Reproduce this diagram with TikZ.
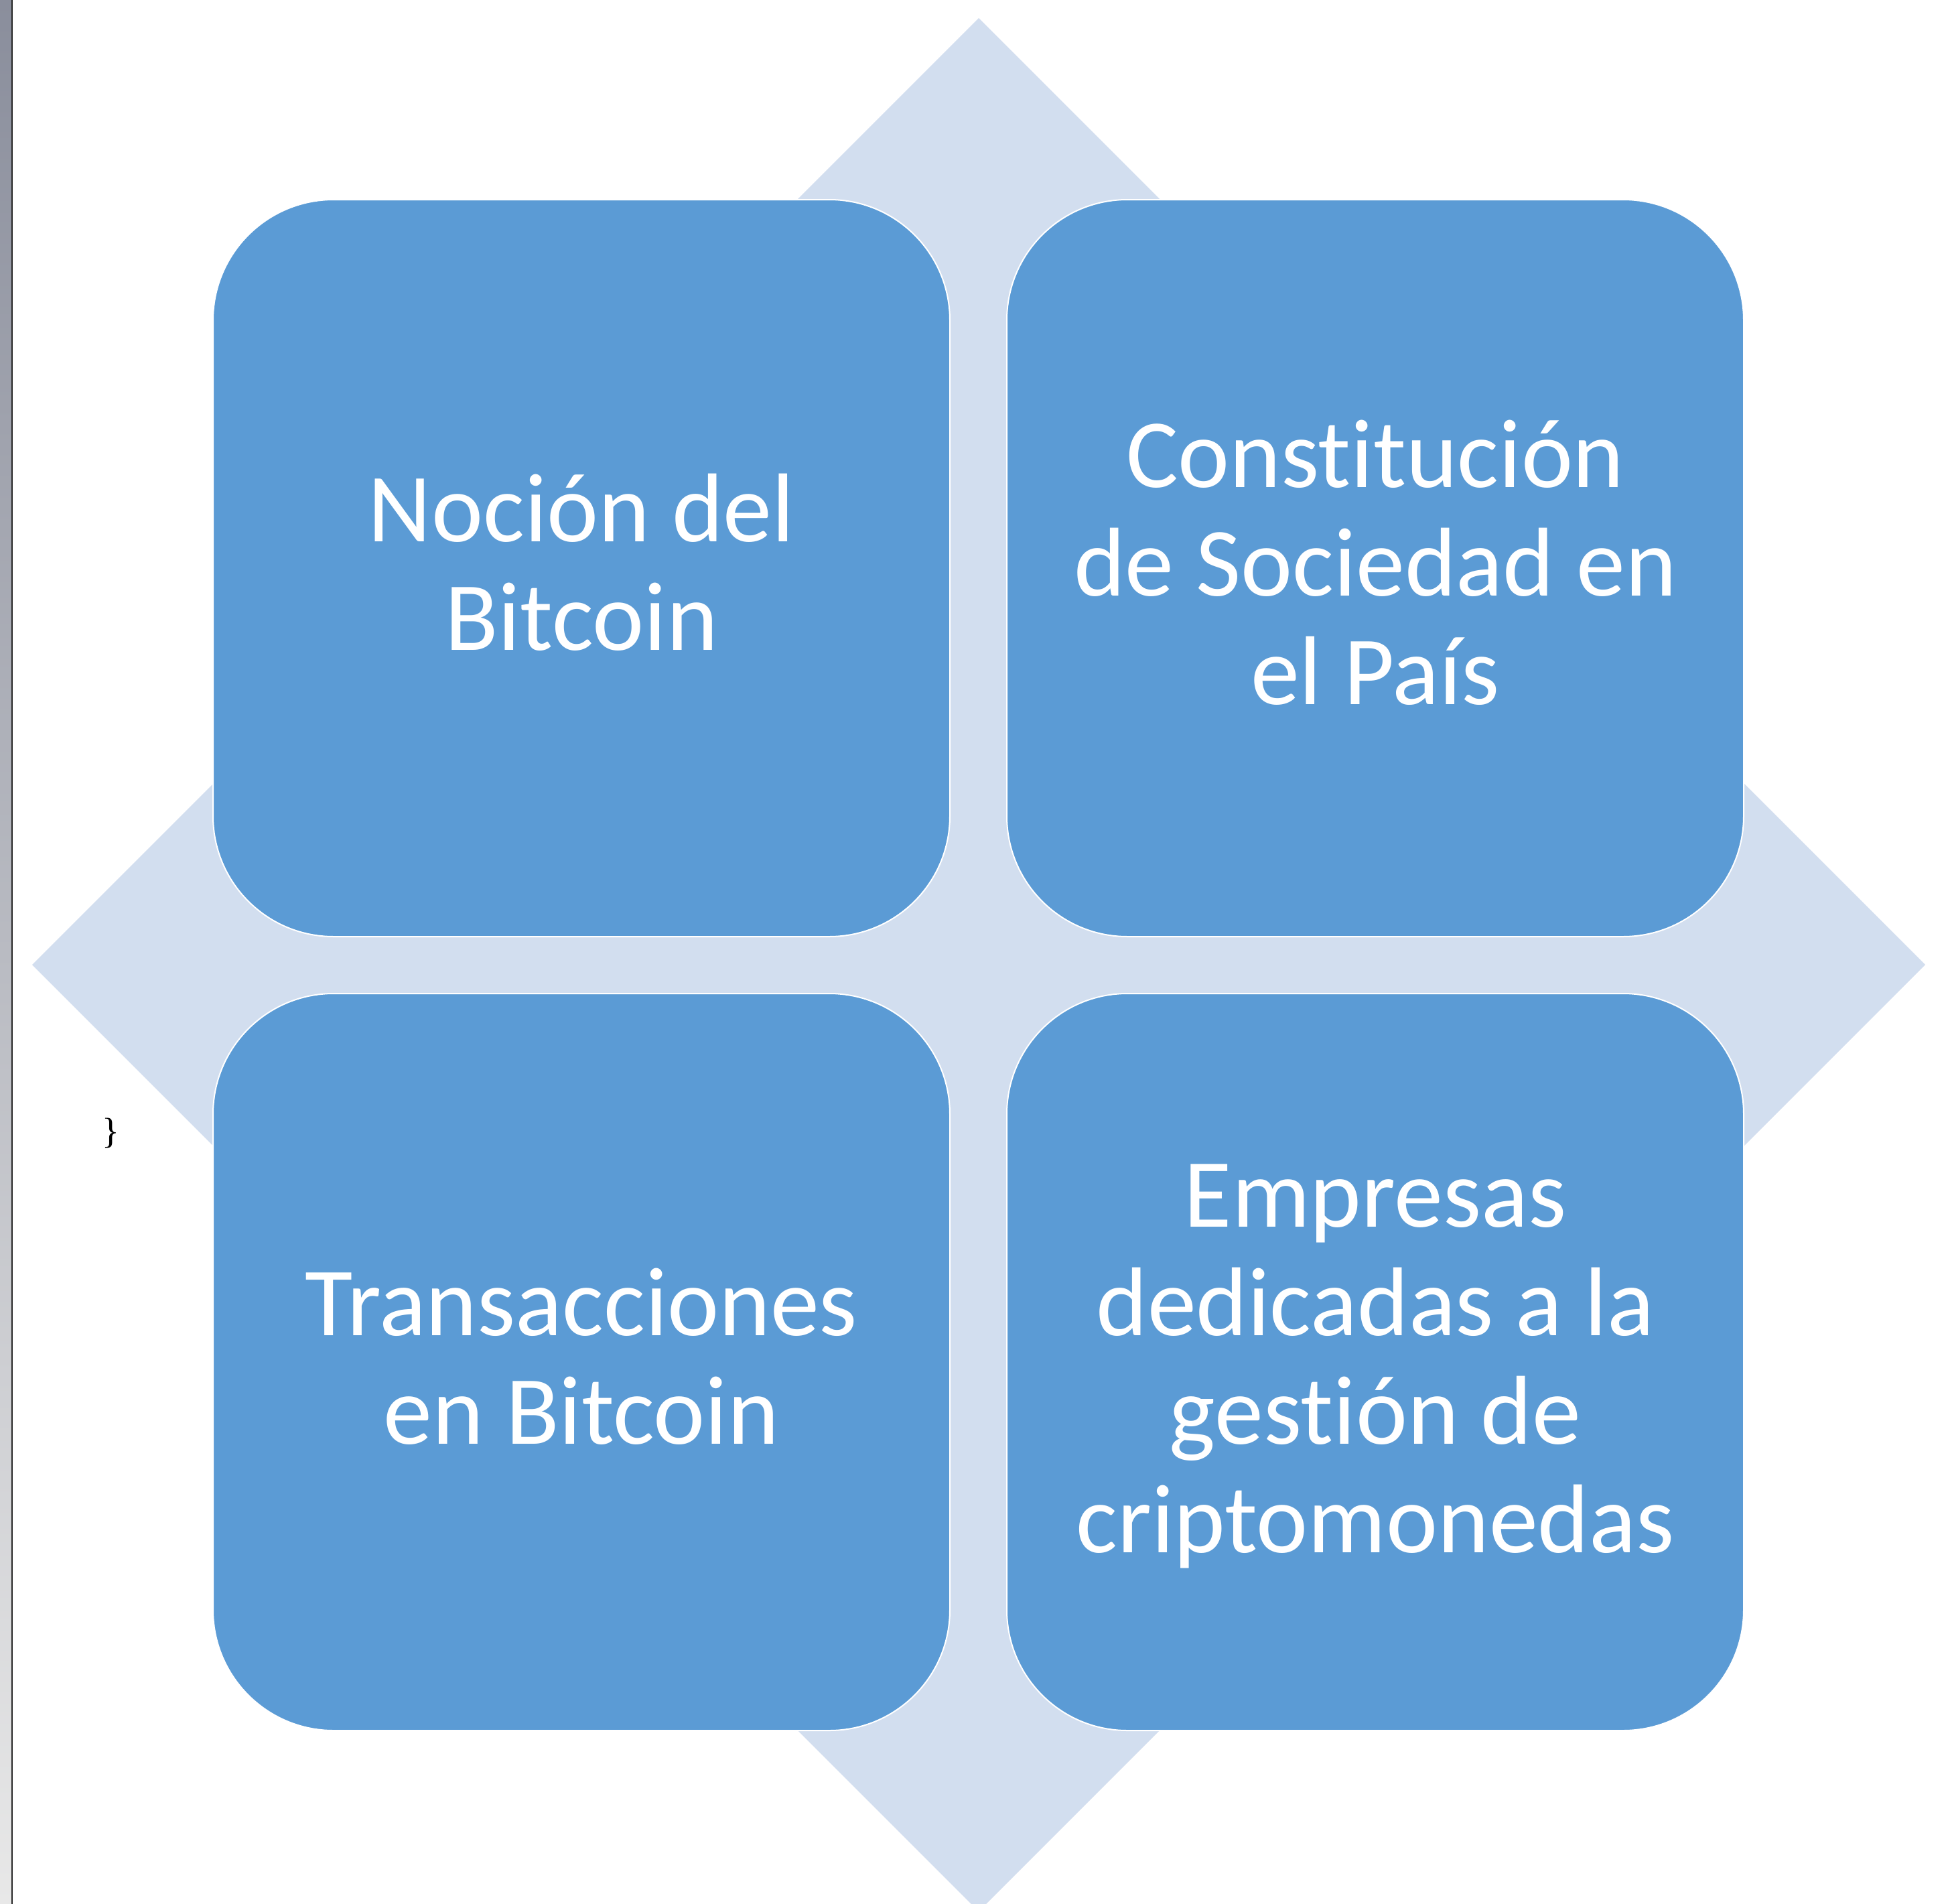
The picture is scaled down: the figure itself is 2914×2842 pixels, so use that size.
\documentclass[tikz,border=0pt]{standalone}
\usepackage{fontspec}
\setmainfont{Carlito}[Ligatures=NoCommon]
\newfontfamily\bracefont{Liberation Serif}
\definecolor{boxblue}{HTML}{5B9BD5}
\definecolor{diamondblue}{HTML}{D2DEEF}
\definecolor{bartop}{HTML}{8A8E9C}
\definecolor{barbottom}{HTML}{E8E8E8}
\newcommand\firststrut{\rule{0pt}{70pt}}
\newcommand\laststrut{\rule[-28.5pt]{0pt}{28.5pt}}
\begin{document}
\begin{tikzpicture}[x=0.5pt,y=-0.5pt,
  qbox/.style={draw=white, line width=1pt, fill=boxblue, rounded corners=90pt,
    minimum width=550pt, minimum height=550pt, inner sep=0pt, align=center,
    text=white, font=\fontsize{73pt}{81pt}\selectfont},
  bracetext/.style={inner sep=0pt, font=\bracefont\fontsize{27pt}{30pt}\selectfont}]
\useasboundingbox (0,0) rectangle (2914,2842);
\clip (0,0) rectangle (2914,2842);
\fill[white] (0,0) rectangle (2914,2842);
\shade[top color=bartop, bottom color=barbottom] (0,0) rectangle (17,2842);
\fill[black!85] (17,0) rectangle (19,2842);
\fill[diamondblue] (1461,27) -- (2874,1440) -- (1461,2853) -- (48,1440) -- cycle;
\node[qbox] (tl) at (868,848) {\firststrut Noción del\\Bitcoin\laststrut};
\node[qbox] (tr) at (2053,848) {\firststrut Constitución\\de Sociedad en\\el País\laststrut};
\node[qbox] (bl) at (868,2033) {\firststrut Transacciones\\en Bitcoin\laststrut};
\node[qbox] (br) at (2053,2033) {\firststrut Empresas\\dedicadas a la\\gestión de\\criptomonedas\laststrut};
\node[bracetext] (brace) at (165,1691) {\}};
\end{tikzpicture}
\end{document}
